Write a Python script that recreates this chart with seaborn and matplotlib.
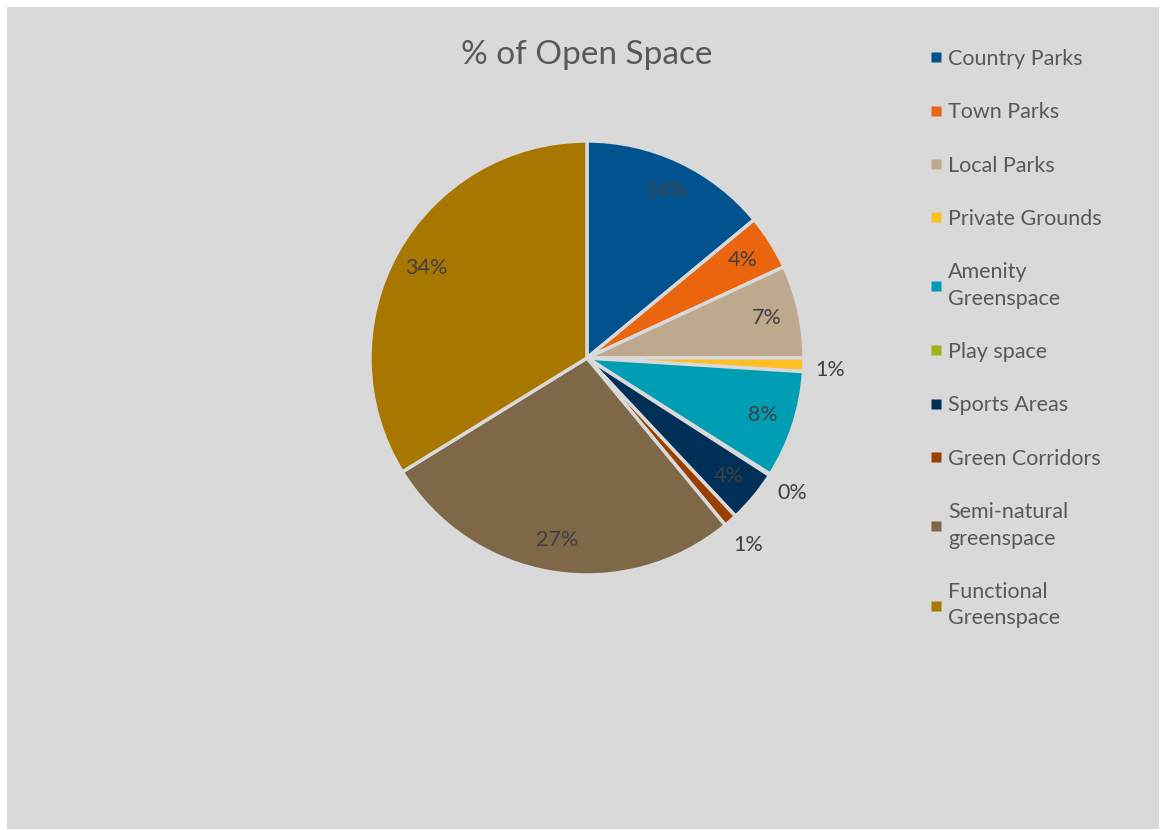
import matplotlib
matplotlib.use("Agg")
import matplotlib.pyplot as plt
from matplotlib.lines import Line2D
from matplotlib.patches import Rectangle
import seaborn as sns

categories = ["Country Parks", "Town Parks", "Local Parks", "Private Grounds",
              "Amenity Greenspace", "Play space", "Sports Areas", "Green Corridors",
              "Semi-natural greenspace", "Functional Greenspace"]
legend_labels = ["Country Parks", "Town Parks", "Local Parks", "Private Grounds",
                 "Amenity\nGreenspace", "Play space", "Sports Areas", "Green Corridors",
                 "Semi-natural\ngreenspace", "Functional\nGreenspace"]
values = [14.0, 4.1, 6.9, 1.0, 8.0, 0.1, 3.9, 1.0, 27.2, 33.8]
colors = ["#00538E", "#EB650F", "#BEA98E", "#FDBF24", "#009EB4",
          "#A3B21B", "#002F57", "#994000", "#7E6847", "#A77700"]

sns.set_style("white")
plt.rcParams["font.family"] = ["Lato", "DejaVu Sans"]

fig = plt.figure(figsize=(11.62, 8.30), dpi=100)
fig.patches.append(Rectangle((7 / 1162, 1 / 830), 1152 / 1162, 822 / 830,
                             transform=fig.transFigure, facecolor="#D9D9D9",
                             edgecolor="none", zorder=-10))

ax = fig.add_axes([0.2717, 0.2419, 0.46687, 0.65361])
ax.set_facecolor("none")
wedges, texts, autotexts = ax.pie(
    values, colors=colors, startangle=90, counterclock=False,
    autopct="%.0f%%", pctdistance=0.85,
    wedgeprops=dict(edgecolor="#D9D9D9", linewidth=2.5),
    textprops=dict(color="#404040", fontsize=15.5))
# small slices get their labels outside the pie
for v, t in zip(values, autotexts):
    if v < 2:
        x, y = t.get_position()
        t.set_position((x / 0.85 * 1.12, y / 0.85 * 1.12 - 0.02))

fig.text(0.505, 0.934, "% of Open Space", ha="center", va="center",
         fontsize=24, color="#595959")

handles = [Line2D([], [], marker="s", linestyle="none", markersize=7,
                  markerfacecolor=c, markeredgecolor="none") for c in colors]
leg = fig.legend(handles, legend_labels, loc="upper left",
                 bbox_to_anchor=(919 / 1162, 1 - 38 / 830), frameon=False,
                 fontsize=15.5, labelcolor="#595959", handlelength=0.6,
                 handletextpad=0.25, labelspacing=1.55, borderpad=0)
for t in leg.get_texts():
    t.set_linespacing(1.4)

fig.savefig("out.png", dpi=100)
